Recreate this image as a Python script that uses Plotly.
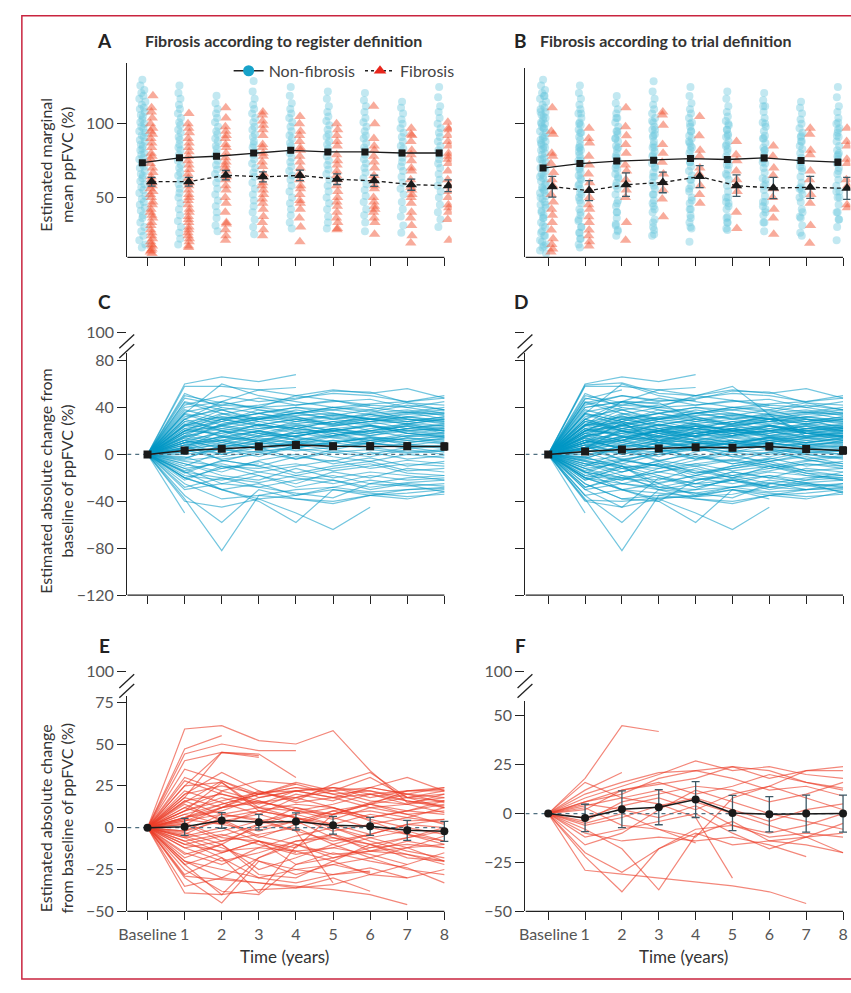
import plotly.graph_objects as go

W, H = 851, 993

# ---------------- data ----------------
years = [0, 1, 2, 3, 4, 5, 6, 7, 8]
year_labels = ["Baseline", "1", "2", "3", "4", "5", "6", "7", "8"]

ppfvc_ticks = [50, 100]
chg_ticks_c = [-120, -80, -40, 0, 40, 80]
chg_ticks_e = [-50, -25, 0, 25, 50, 75]
chg_ticks_f = [-50, -25, 0, 25, 50]
break_tick = [100]
break_text = ["100"]

# observed ppFVC (%) per year, non-fibrosis (register definition)
ppfvc_nonfib_reg = [
    [130, 126, 123, 121, 119, 117, 115, 113, 111, 110, 108, 106, 105, 103, 101, 100, 98, 97, 95, 94, 92, 91, 89, 88, 86, 85,
     83, 82, 80, 79, 77, 76, 74, 73, 71, 70, 68, 66, 65, 63, 61, 59, 57, 55, 53, 51, 49, 47, 45, 43, 41, 38, 36, 33, 30, 27,
     24, 21, 18, 16],
    [126, 121, 117, 113, 110, 107, 104, 101, 99, 96, 94, 91, 89, 86, 84, 82, 79, 77, 75, 72, 70, 67, 65, 62, 59, 56, 53, 50,
     46, 42, 38, 34, 30, 26, 22, 18],
    [119, 114, 110, 107, 104, 101, 98, 95, 93, 90, 88, 85, 83, 80, 78, 75, 72, 69, 66, 63, 60, 56, 52, 48, 44, 40, 36, 31, 27],
    [129, 122, 117, 113, 110, 107, 104, 101, 98, 96, 93, 91, 88, 86, 84, 81, 79, 76, 73, 70, 67, 64, 60, 56, 52, 48, 44, 40,
     35, 30, 25],
    [125, 119, 114, 110, 107, 104, 101, 98, 95, 92, 90, 87, 85, 82, 80, 77, 74, 71, 68, 65, 62, 58, 54, 50, 46, 42, 38, 33, 29],
    [122, 117, 112, 108, 105, 102, 99, 96, 93, 91, 88, 86, 83, 81, 78, 75, 72, 69, 66, 62, 58, 54, 50, 46, 42, 37, 33, 29],
    [121, 116, 112, 108, 104, 101, 98, 95, 92, 90, 87, 84, 82, 79, 76, 73, 70, 67, 63, 59, 55, 51, 47, 42, 38, 33, 27],
    [115, 111, 107, 103, 100, 97, 94, 91, 88, 85, 83, 80, 77, 74, 71, 68, 64, 60, 56, 52, 47, 42, 37, 31, 26],
    [125, 118, 112, 108, 104, 100, 97, 94, 91, 88, 85, 82, 79, 76, 73, 70, 66, 62, 58, 54, 50, 45, 40, 35, 30],
]
# fibrosis by trial definition (also fibrosis by register definition)
ppfvc_fib_trial = [
    [111, 95, 93, 80, 78, 73, 67, 62, 58, 52, 47, 42, 38, 33, 28, 22, 18, 15, 13],
    [97, 90, 87, 78, 72, 66, 60, 55, 50, 45, 42, 37, 33, 28, 24, 20, 17],
    [111, 98, 92, 86, 80, 72, 68, 62, 55, 50, 33, 21],
    [108, 106, 99, 86, 80, 74, 66, 60, 55, 49, 37],
    [105, 92, 82, 78, 70, 66, 58, 52, 46],
    [88, 79, 75, 68, 62, 58, 54, 40, 29],
    [85, 78, 70, 65, 56, 50, 42, 36, 25],
    [97, 93, 82, 79, 68, 62, 52, 46, 31, 19],
    [97, 88, 85, 76, 73, 62, 58, 45, 43],
]
# fibrosis by register definition only (non-fibrosis by trial definition)
ppfvc_fib_reg_only = [
    [119, 108, 104, 100, 97, 90, 87, 84, 76, 70, 64, 60, 56, 54, 50, 45, 40, 36, 31, 26, 24, 20, 17, 14, 12],
    [107, 100, 94, 84, 81, 75, 69, 63, 58, 52, 48, 40, 35, 30, 26, 22, 16],
    [104, 95, 90, 84, 77, 74, 70, 64, 58, 46, 40, 32, 28, 24],
    [102, 96, 92, 84, 78, 71, 64, 58, 52, 46, 42, 33, 28, 24],
    [100, 95, 88, 84, 74, 62, 56, 48, 42, 36, 30, 20],
    [100, 96, 92, 85, 72, 65, 50, 47, 44, 36, 33, 28],
    [112, 100, 90, 82, 74, 62, 58, 47, 44, 40, 33],
    [92, 88, 75, 70, 57, 55, 50, 40, 36, 24],
    [101, 96, 92, 80, 78, 68, 54, 50, 40, 35, 21],
]

# estimated marginal means (+/- error)
emm_a_nonfib = [73.6, 76.9, 78.0, 80.2, 82.0, 80.9, 80.9, 80.2, 80.2]
emm_a_nonfib_err = [1.2, 1.3, 1.4, 1.5, 1.5, 1.6, 1.6, 1.7, 1.8]
emm_a_fib = [60.7, 60.7, 65.1, 64.0, 65.0, 62.4, 61.3, 58.7, 58.0]
emm_a_fib_err = [3.0, 3.0, 3.2, 3.4, 3.5, 3.6, 3.8, 3.8, 4.0]
emm_b_nonfib = [70.0, 73.0, 74.7, 75.3, 76.4, 75.8, 76.9, 75.1, 74.0]
emm_b_nonfib_err = [1.3, 1.4, 1.5, 1.6, 1.7, 1.8, 1.9, 2.0, 2.1]
emm_b_fib = [57.3, 54.7, 58.7, 60.2, 64.2, 58.0, 56.4, 56.9, 56.2]
emm_b_fib_err = [7.0, 6.8, 8.0, 7.0, 7.5, 7.3, 7.2, 7.5, 7.5]

chg_mean_c = [0, 3.3, 4.7, 6.7, 8.1, 7.0, 7.0, 7.0, 6.7]
chg_err_c = [0, 1.5, 1.8, 2.0, 2.2, 2.4, 2.6, 2.8, 3.0]
chg_mean_d = [0, 2.5, 4.2, 5.0, 6.1, 5.6, 6.7, 4.5, 3.3]
chg_err_d = [0, 1.5, 1.8, 2.0, 2.2, 2.4, 2.6, 2.8, 3.0]
chg_mean_e = [0, 0.5, 4.3, 3.3, 3.7, 1.4, 0.8, -1.6, -2.2]
chg_err_e = [0, 5.1, 4.7, 4.6, 5.1, 5.3, 5.4, 6.0, 6.0]
chg_mean_f = [0, -2.2, 2.2, 3.3, 7.2, 0.3, -0.3, 0.0, 0.0]
chg_err_f = [0, 7.0, 9.4, 9.0, 9.2, 9.0, 9.0, 9.5, 9.5]

# individual change-from-baseline trajectories (values at years 0..n)
chg_nonfib_reg = [
    [0, 60, 66, 62, 68], [0, 58, 58, 55, 57], [0, 42, 50, 45, 48, 52, 50, 45, 50],
    [0, 35, 60, 50, 45, 40, 38, 44, 42], [0, 30, 45, 55, 50, 55, 52, 56, 48],
    [0, 25, 38, 42, 47, 54, 53, 44, 38], [0, 50, 44, 40, 42, 45, 47, 40, 35],
    [0, 20, 30, 35, 40, 38, 42, 40, 45], [0, 45, 38, 30, 33, 35, 30, 32, 28],
    [0, 15, 25, 32, 35, 30, 35, 38, 33], [0, -50], [0, -38, -82, -35, -38, -40, -35, -33, -30],
    [0, -35, -58, -30, -38, -42, -35, -30, -28], [0, -20, -30, -40, -58, -30, -35, -38, -32],
    [0, -15, -30, -38, -50, -64, -45], [0, -40, -45, -38, -35, -30, -33, -36, -34],
    [0, -25, -38, -35, -30, -28, -32, -30, -29], [0, -30, -25, -28, -33, -37, -25, -27, -25],
    [0, 10, 12, 15, 18, 20, 16, 22, 20], [0, 5, 8, 6, 10, 12, 9, 8, 11], [0, -5, -2, 3, 5, 2, 4, 1, 3],
    [0, 20, 18, 25, 22, 28, 30, 26, 24], [0, -12, -8, -15, -10, -5, -12, -8, -10],
    [0, 28, 32, 30, 35, 38, 34, 36, 30], [0, 8, 15, 10, 20, 15, 18, 25, 22],
    [0, -18, -22, -15, -20, -25, -18, -22, -20], [0, 12, 5, 10, 8, 15, 12, 10, 14],
    [0, 35, 28, 22, 25, 20, 24, 18, 21], [0, 2, 10, 18, 15, 22, 25, 20, 17],
    [0, -8, -15, -5, 0, -8, -3, -10, -6], [0, 15, 22, 28, 32, 25, 28, 32, 35],
    [0, 25, 15, 20, 12, 18, 10, 14, 12], [0, -22, -10, -18, -25, -15, -20, -12, -15],
    [0, 6, 0, 8, 3, 6, 10, 5, 7], [0, 18, 25, 20, 28, 32, 28, 30, 26], [0, 38, 30, 35, 28, 25, 30, 28, 32],
    [0, -3, 5, -2, 8, 4, 0, 6, 2], [0, 10, 20, 25, 22, 18, 20, 15, 18],
    [0, -15, -20, -28, -22, -18, -25, -20, -18], [0, 22, 28, 35, 40, 35, 30, 35, 38],
    [0, 30, 40, 35, 30, 33, 38, 30, 27], [0, 4, 12, 8, 14, 10, 15, 12, 16],
    [0, -6, -10, -12, -8, -14, -10, -5, -8], [0, 16, 10, 5, 12, 8, 5, 9, 6],
    [0, 12, 18, 22, 26, 30, 34, 30, 28], [0, 26, 20, 15, 18, 22, 18, 22, 25],
    [0, -10, 2, 10, 5, 12, 8, 14, 10], [0, 8, -5, -10, -2, -6, 2, -4, -1],
    [0, 32, 38, 28, 22, 28, 25, 20, 22], [0, 14, 24, 18, 12, 16, 22, 26, 20],
    [0, -28, -20, -24, -18, -22, -28, -24, -22], [0, 2, 6, 12, 18, 14, 10, 16, 14],
    [0, 20, 34, 40, 36, 30, 26, 28, 24], [0, 10, 0, 6, -4, 2, -2, 4, 0],
    [0, -2, -12, -6, -16, -10, -6, -14, -12], [0, 24, 30, 25, 30, 26, 32, 36, 40],
    [0, 6, 16, 26, 20, 24, 28, 22, 26], [0, 40, 45, 38, 35, 40, 43, 45, 48],
    [0, -20, -30, -25, -35, -28, -22, -26, -32], [0, 18, 12, 20, 15, 10, 14, 8, 5],
    [0, 34, 25, 30, 35, 40, 36, 42, 38], [0, 0, 4, 2, 6, 10, 6, 2, 4],
    [0, 12, 26, 32, 28, 34, 30, 26, 30], [0, -14, -6, 2, -4, 4, 10, 6, 8],
    [0, 28, 22, 18, 24, 16, 20, 24, 18], [0, 8, 12, 4, 10, 6, 12, 18, 15],
    [0, 16, 30, 24, 18, 22, 16, 20, 23], [0, -4, 8, 14, 10, 16, 20, 24, 20],
    [0, 22, 16, 12, 6, 10, 14, 10, 13], [0, 44, 35, 25, 30, 24, 28, 32, 29],
    [0, -8, -18, -22, -12, -20, -15, -18, -22], [0, 10, 15, 12, 16, 20, 24, 18, 16],
    [0, 36, 42, 48, 42, 46, 40, 36, 34], [0, 4, -4, 0, 5, -2, -6, 0, -3],
    [0, 20, 24, 30, 26, 20, 25, 18, 15], [0, -12, -25, -18, -28, -22, -30, -25, -27],
    [0, 14, 8, 16, 22, 18, 12, 16, 19], [0, 30, 20, 10, 16, 20, 15, 12, 9],
    [0, 6, 20, 16, 24, 28, 20, 26, 30], [0, 18, 28, 38, 32, 26, 34, 28, 32],
    [0, 24, 35, 30, 38, 33, 30, 34, 36], [0, -16, -5, -10, -18, -12, -8, -16, -18],
    [0, 25, 32, 28], [0, 12, 6, 12, 10, 8], [0, -20, -12, -8], [0, 48, 42, 40, 50, 46, 42],
    [0, 5, 14, 20, 15, 22, 18, 22], [0, 52, 40],
]
# fibrosis by trial definition
chg_fib_trial = [
    [0, 18, 45, 42], [0, 12, 21], [0, 8, 14, 20, 27, 22, 24, 20, 18], [0, 6, 10, 18, 22, 24, 18, 22, 24],
    [0, -29, -31, -33, -35, -37, -40, -46], [0, -22, -40, -18, -8, -6, -12, -10, -12],
    [0, -8, -18, -39, -11, -4, -14, -16, -20], [0, 4, 8, 5, -2, -33],
    [0, 2, 12, 16, 10, 14, 20, 16, 13], [0, -4, 6, 10, 14, 12, 6, 10, 16],
    [0, -6, -2, 4, 8, 2, -4, 2, 5], [0, 5, 2, -2, 4, -6, -10, -6, 0],
    [0, -12, -8, -4, 0, -10, -18, -12, -10], [0, -16, -10, 2, 12, 6, 0, -4, -8],
    [0, 10, 16, 21, 22, 18, 12, 14, 9], [0, -2, 4, 8, 2, 10, 14, 22, 22],
    [0, -10, -14, -12, -14, -12, -16, -22], [0, 3, -6, -8, -15],
    [0, -20, -30, -18, -10, -16, -14, -12, -5], [0, 6, 12, 15, 18, 24, 22, 16, 12],
    [0, 16, 8, 12, 6, 0, -6, -12, -20], [0, -5, 0, -8, -12, 8, 14, 8, 2],
]
# fibrosis by register definition only
chg_fib_reg_only = [
    [0, 59, 61, 52, 50, 58, 34, 15, 18], [0, 47, 55], [0, 44, 50, 46, 46], [0, 40, 45, 43],
    [0, 20, 33, 22, 15, 18, 20, 14, 16], [0, 25, 27, 12, 10, 8, 14, 18, 22],
    [0, -39, -40, -37, -36, -34, -28, -30], [0, -30, -45, -20, -25, -28, -26],
    [0, -25, -38, -40, -22, -15, -20, -24, -33], [0, -28, -18, -30, -25, -22, -27],
    [0, 15, 28, 18, 22, 24, 20, 22, 23], [0, 20, 25, 20, 18, 22, 30, 18, 20],
    [0, 10, 18, 12, 20, 16, 24, 20, 15], [0, 5, 22, 16, 10, 5, 12, 8, 10],
    [0, -10, -5, 2, 8, 12, 6, 10, 14], [0, -15, -22, -12, -5, 0, -8, -14, -18],
    [0, 12, 5, -5, -10, -18, -14, -8, -12], [0, -5, -12, -20, -28, -22, -18, -25, -28],
    [0, 8, 2, 10, 6, 2, 8, 4, 5], [0, -20, -25, -30, -33, -28, -24, -30, -25],
    [0, 28, 20, 15, 12, 8, 10, 6, 3], [0, -8, -4, -10, -16, -12, -6, -2, -8],
    [0, 18, 12, 20, 24, 22, 16, 14, 20], [0, 2, -8, 0, 4, 10, 5, 0, -4],
    [0, -22, -15, -8, -14, -20, -28, -22, -15], [0, 22, 15, 8, 18, 12, 4, -4, -10],
    [0, -12, -20, -15, -8, -4, -10, -16, -22], [0, 35, 28, 20, 24, 20, 22, 18, 16],
    [0, 6, 14, 20, 26, 20, 14, 10, 8], [0, -2, 8, 4, -2, -8, -4, 2, 0],
    [0, 25, 45, 44, 30], [0, 30, 22, 28, 26], [0, -18, -10, -25, -18, -10, -4],
    [0, 14, 4, -6, 2, 8, 15, 20, 24], [0, -6, -15, -8, -22, -18, -12, -6, -2],
    [0, 10, 27, 10, 6, -2, 2, 6, 12], [0, -3, -10, -28, -30, -20, -10, -18, -20],
    [0, 16, 20, 14, 22, 18, 24, 30, 22], [0, -35, -30, -33, -36, -30, -38],
    [0, 4, 12, 22, 16, 26, 33, 18, 12],
]

# ---------------- style ----------------
FONT = "Lato, 'Open Sans', Arial, sans-serif"
AX = "#222222"
TICKC = "#555555"
CYAN_PT = "rgba(110,200,222,0.42)"
RED_PT = "rgba(240,80,45,0.48)"
CYAN_LN = "rgba(0,152,196,0.55)"
RED_LN = "rgba(236,62,40,0.62)"
ERR = "#3d5966"
NF_OFF, F_OFF = -0.14, 0.11
JIT = [0.0, -0.6, 0.6, -0.3, 0.3, -0.9, 0.9, -0.15, 0.45, -0.75, 0.75, -0.45, 0.15]
TICK_FS = 16


def fx(p):
    return p / W


def fy(p):
    return 1 - p / H


# panel geometry (pixels)
XL = dict(d=(119.5, 447.5), r=(-0.547, 8.2))
XR = dict(d=(522.0, 850.4), r=(-0.617, 8.2))
panels = [
    ("A", "", XL, (55, 253), (9.3, 141.3), ppfvc_ticks, True, False),
    ("B", "2", XR, (60, 253), (9.3, 138.0), ppfvc_ticks, False, False),
    ("C", "3", XL, (350, 597), (-120, 86.7), chg_ticks_c, True, False),
    ("D", "4", XR, (350, 597), (-120, 86.7), chg_ticks_c, False, False),
    ("E", "5", XL, (700, 919), (-50, 78.5), chg_ticks_e, True, True),
    ("F", "6", XR, (705, 919), (-50, 57.5), chg_ticks_f, True, True),
]

fig = go.Figure()
layout = dict(
    width=W, height=H, margin=dict(l=0, r=0, t=0, b=0),
    paper_bgcolor="white", plot_bgcolor="rgba(0,0,0,0)",
    font=dict(family=FONT, color="#333333"),
    showlegend=True,
)
shapes = []
annotations = []

for name, s, xg, yd, yr, yt, ylab, xlab in panels:
    layout["xaxis" + s] = dict(
        domain=[fx(xg["d"][0]), fx(xg["d"][1])], range=list(xg["r"]), anchor="y" + s,
        showline=False, showgrid=False, zeroline=False, ticks="outside", ticklen=8,
        tickwidth=1.3, tickcolor=AX, tickvals=years, ticktext=year_labels,
        showticklabels=xlab, tickfont=dict(size=TICK_FS, color=TICKC, family=FONT),
    )
    layout["yaxis" + s] = dict(
        domain=[fy(yd[1]), fy(yd[0])], range=list(yr), anchor="x" + s,
        showline=True, linecolor=AX, linewidth=1.3, showgrid=False, zeroline=False,
        ticks="outside", ticklen=9, tickwidth=1.3, tickcolor=AX, tickvals=yt,
        showticklabels=ylab, tickfont=dict(size=TICK_FS, color=TICKC, family=FONT),
    )
    shapes.append(dict(type="line", xref="x" + s, yref="y" + s + " domain",
                       x0=xg["r"][0], x1=years[-1], y0=0, y1=0,
                       line=dict(color=AX, width=1.3)))

# broken-axis "100" ticks
breaks = [("3", "7", XL, 329, True), ("4", "8", XR, 329, False),
          ("5", "9", XL, 675, True), ("6", "10", XR, 675, True)]
for xs, ys, xg, y100, lab in breaks:
    layout["yaxis" + ys] = dict(
        domain=[fy(y100 + 1), fy(y100 - 1)], range=[99, 101], anchor="x" + xs,
        showline=False, showgrid=False, zeroline=False, ticks="outside", ticklen=9,
        tickwidth=1.3, tickcolor=AX, tickvals=break_tick, ticktext=break_text,
        showticklabels=lab, tickfont=dict(size=TICK_FS, color=TICKC, family=FONT),
    )
    fig.add_trace(go.Scatter(x=[None], y=[None], xaxis="x" + xs, yaxis="y" + ys,
                             showlegend=False, hoverinfo="skip"))
    x0 = xg["d"][0]
    for yc in (y100 + 9, y100 + 19):
        shapes.append(dict(type="line", xref="paper", yref="paper",
                           x0=fx(x0 - 8), y0=fy(yc + 7.5), x1=fx(x0 + 7), y1=fy(yc - 6.5),
                           line=dict(color=AX, width=1.3)))


# ---- panels A / B : scatter + marginal means ----
def scatter_xy(cols, off, amp0, amp):
    xs, ys = [], []
    for t, col in zip(years, cols):
        a = amp0 if t == 0 else amp
        for i, v in enumerate(col):
            xs.append(t + off + a * JIT[i % len(JIT)])
            ys.append(v)
    return xs, ys


a_cyan = ppfvc_nonfib_reg
a_red = [p + q for p, q in zip(ppfvc_fib_trial, ppfvc_fib_reg_only)]
b_cyan = [p + q for p, q in zip(ppfvc_nonfib_reg, ppfvc_fib_reg_only)]
b_red = ppfvc_fib_trial

for s, cyan, red, m_nf, e_nf, m_f, e_f in [
    ("", a_cyan, a_red, emm_a_nonfib, emm_a_nonfib_err, emm_a_fib, emm_a_fib_err),
    ("2", b_cyan, b_red, emm_b_nonfib, emm_b_nonfib_err, emm_b_fib, emm_b_fib_err),
]:
    xs, ys = scatter_xy(cyan, NF_OFF, 0.09, 0.045)
    fig.add_trace(go.Scatter(x=xs, y=ys, mode="markers", xaxis="x" + s, yaxis="y" + s,
                             marker=dict(color=CYAN_PT, size=8, line=dict(width=0)),
                             showlegend=False, hoverinfo="skip"))
    xs, ys = scatter_xy(red, F_OFF, 0.04, 0.02)
    fig.add_trace(go.Scatter(x=xs, y=ys, mode="markers", xaxis="x" + s, yaxis="y" + s,
                             marker=dict(color=RED_PT, size=10, symbol="triangle-up", line=dict(width=0)),
                             showlegend=False, hoverinfo="skip"))
    fig.add_trace(go.Scatter(x=[t + NF_OFF for t in years], y=m_nf, mode="lines+markers",
                             xaxis="x" + s, yaxis="y" + s,
                             line=dict(color="#1a1a1a", width=1.3),
                             marker=dict(color="#1a1a1a", size=7, symbol="square"),
                             error_y=dict(type="data", array=e_nf, color=ERR, thickness=1.3, width=3),
                             showlegend=False, hoverinfo="skip"))
    fig.add_trace(go.Scatter(x=[t + F_OFF for t in years], y=m_f, mode="lines+markers",
                             xaxis="x" + s, yaxis="y" + s,
                             line=dict(color="#1a1a1a", width=1.3, dash="4px,3px"),
                             marker=dict(color="#1a1a1a", size=10, symbol="triangle-up"),
                             error_y=dict(type="data", array=e_f, color=ERR, thickness=1.3, width=4),
                             showlegend=False, hoverinfo="skip"))

# legend entries
fig.add_trace(go.Scatter(x=[None], y=[None], mode="lines+markers", name="Non-fibrosis",
                         line=dict(color="#222222", width=1.3),
                         marker=dict(color="#17a2c9", size=11, symbol="circle")))
fig.add_trace(go.Scatter(x=[None], y=[None], mode="lines+markers", name="Fibrosis",
                         line=dict(color="#222222", width=1.3, dash="3px,3px"),
                         marker=dict(color="#e8261c", size=11, symbol="triangle-up")))

# ---- panels C-F : spaghetti + mean change ----
for s, lines, color, mean, err, msym in [
    ("3", chg_nonfib_reg, CYAN_LN, chg_mean_c, chg_err_c, "square"),
    ("4", chg_nonfib_reg + chg_fib_reg_only, CYAN_LN, chg_mean_d, chg_err_d, "square"),
    ("5", chg_fib_trial + chg_fib_reg_only, RED_LN, chg_mean_e, chg_err_e, "circle"),
    ("6", chg_fib_trial, RED_LN, chg_mean_f, chg_err_f, "circle"),
]:
    for ln in lines:
        fig.add_trace(go.Scatter(x=years[:len(ln)], y=ln, mode="lines", xaxis="x" + s, yaxis="y" + s,
                                 line=dict(color=color, width=1.2), showlegend=False, hoverinfo="skip"))
    xr = XL["r"] if s in ("3", "5") else XR["r"]
    fig.add_trace(go.Scatter(x=[xr[0], years[-1]], y=[mean[0], mean[0]], mode="lines",
                             xaxis="x" + s, yaxis="y" + s,
                             line=dict(color="#4f6f80", width=1.3, dash="4px,4px"),
                             showlegend=False, hoverinfo="skip"))
    big_err = s in ("5", "6")
    fig.add_trace(go.Scatter(x=years, y=mean, mode="lines+markers", xaxis="x" + s, yaxis="y" + s,
                             line=dict(color="#1a1a1a", width=1.5),
                             marker=dict(color="#1a1a1a", size=8, symbol=msym),
                             error_y=dict(type="data", array=err, color=ERR if big_err else "#1a1a1a",
                                          thickness=1.3, width=4 if big_err else 3),
                             showlegend=False, hoverinfo="skip"))


# ---- text ----
def ann(text, x, y, size=16, bold=False, color="#333333", angle=0, xanchor="center", yanchor="middle"):
    annotations.append(dict(text=("<b>%s</b>" % text) if bold else text, x=fx(x), y=fy(y),
                            xref="paper", yref="paper", showarrow=False, textangle=angle,
                            xanchor=xanchor, yanchor=yanchor,
                            font=dict(size=size, color=color, family=FONT)))


for letter, x, y in [("A", 97, 32), ("B", 517, 32), ("C", 97, 298), ("D", 517, 298), ("E", 97, 648), ("F", 517, 648)]:
    ann(letter, x, y, size=19, bold=True, color="#222222")
ann("Fibrosis according to register definition", 135, 32, size=16, bold=True, xanchor="left")
ann("Fibrosis according to trial definition", 535, 32, size=16, bold=True, xanchor="left")
ann("Estimated marginal<br>mean ppFVC (%)", 48, 158, size=16, angle=-90)
ann("Estimated absolute change from<br>baseline of ppFVC (%)", 48, 481, size=16, angle=-90)
ann("Estimated absolute change<br>from baseline of ppFVC (%)", 48, 824, size=16, angle=-90)
ann("Time (years)", 278, 965, size=17)
ann("Time (years)", 682, 965, size=17)

# red frame
shapes.append(dict(type="rect", xref="paper", yref="paper", x0=fx(13), x1=1.05, y0=fy(988), y1=fy(7),
                   line=dict(color="#c9243f", width=1.5), fillcolor="rgba(0,0,0,0)", layer="above"))

layout["shapes"] = shapes
layout["annotations"] = annotations
layout["legend"] = dict(orientation="h", x=fx(222), y=fy(63), xanchor="left", yanchor="middle",
                        font=dict(size=16, color="#444444", family=FONT), bgcolor="rgba(0,0,0,0)",
                        itemwidth=30, tracegroupgap=0)
fig.update_layout(**layout)
fig.write_html("out.html")
